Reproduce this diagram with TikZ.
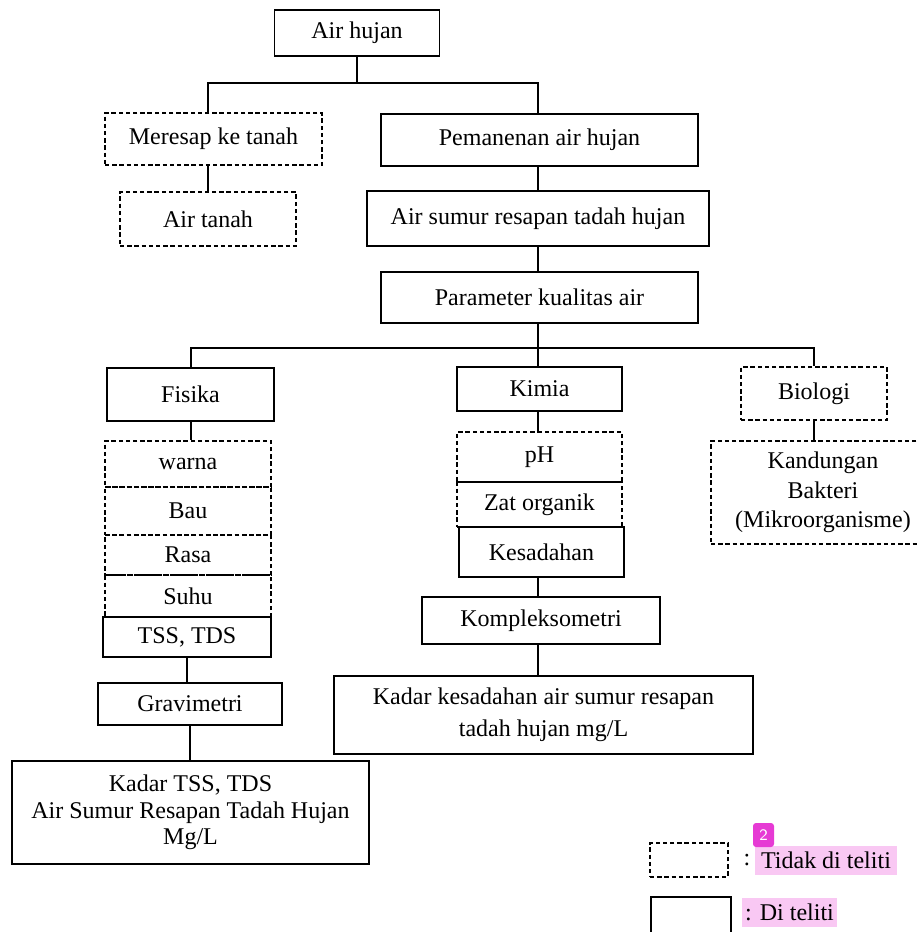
\documentclass[tikz,border=0pt]{standalone}
\usepackage{fontspec}
\setmainfont{Liberation Serif}
\definecolor{hl}{RGB}{249,200,243}
\definecolor{badge}{RGB}{230,58,212}
\begin{document}
\begin{tikzpicture}[x=0.5pt,y=-0.5pt,
  box/.style={draw, line width=0.65pt, inner sep=0pt, anchor=center, align=center,
    font=\fontsize{12}{14}\selectfont},
  dbox/.style={box, dash pattern=on 2.2pt off 1.4pt},
  conn/.style={draw, line width=0.65pt},
  hlbox/.style={fill=hl, inner sep=0pt, anchor=center, font=\fontsize{12}{14}\selectfont}]
\clip (0,0) rectangle (918,932);
\useasboundingbox (0,0) rectangle (918,932);
% top
\node[box, minimum width=82.5pt, minimum height=23pt] (airhujan) at (357,33) {Air hujan};
\node[dbox, minimum width=108.5pt, minimum height=26pt] (meresap) at (213.5,139) {Meresap ke tanah};
\node[box, minimum width=158.5pt, minimum height=26pt] (pemanenan) at (539.5,140) {Pemanenan air hujan};
\node[dbox, minimum width=88pt, minimum height=27pt] (airtanah) at (208,219) {Air tanah};
\node[box, minimum width=171pt, minimum height=27.5pt] (airsumur) at (538,218.5) {Air sumur resapan tadah hujan};
\node[box, minimum width=158.5pt, minimum height=25.5pt] (parameter) at (539.5,297.5) {Parameter kualitas air};
% categories
\node[box, minimum width=83.5pt, minimum height=26.5pt] (fisika) at (190.5,394.5) {Fisika};
\node[box, minimum width=82.5pt, minimum height=22pt] (kimia) at (539.5,389) {Kimia};
\node[dbox, minimum width=73pt, minimum height=26.5pt] (biologi) at (814,393.5) {Biologi};
% fisika stack
\node[dbox, minimum width=83pt, minimum height=23pt] (warna) at (188,464) {warna};
\node[dbox, minimum width=83pt, minimum height=24pt] (bau) at (188,511) {Bau};
\node[dbox, minimum width=83pt, minimum height=20pt] (rasa) at (188,555) {Rasa};
\node[dbox, minimum width=83pt, minimum height=21pt] (suhu) at (188,596) {Suhu};
\node[box, minimum width=84pt, minimum height=20pt] (tss) at (187,637) {TSS, TDS};
\node[box, minimum width=92pt, minimum height=21pt] (grav) at (190,704) {Gravimetri};
\node[box, minimum width=178.5pt, minimum height=51.5pt,
  font=\fontsize{12}{13.25}\selectfont] (kadartss) at (190.5,812.5)
  {Kadar TSS, TDS\\Air Sumur Resapan Tadah Hujan\\Mg/L};
% kimia stack
\node[dbox, minimum width=82.5pt, minimum height=25pt] (ph) at (539.5,457) {pH};
\node[dbox, minimum width=82.5pt, minimum height=22.5pt] (zat) at (539.5,504.5) {Zat organik};
\node[box, minimum width=82.5pt, minimum height=25pt] (kesadahan) at (541.5,552) {Kesadahan};
\node[box, minimum width=119pt, minimum height=23.5pt] (kompleks) at (541,620.5) {Kompleksometri};
\node[box, minimum width=209.5pt, minimum height=39pt,
  font=\fontsize{12}{16}\selectfont] (kadarkes) at (543.5,715)
  {Kadar kesadahan air sumur resapan\\tadah hujan mg/L};
% biologi
\node[dbox, minimum width=112pt, minimum height=51.5pt,
  font=\fontsize{12}{14.75}\selectfont] (kandungan) at (823,492.5)
  {Kandungan\\Bakteri\\(Mikroorganisme)};
% connectors
\coordinate (xl) at (208,0);
\coordinate (xm) at (538,0);
\coordinate (xf) at (191,0);
\coordinate (ja) at (357,83);
\coordinate (jb) at (538,348);
\draw[conn] (airhujan.south) -- (ja);
\draw[conn] (meresap.north -| xl) |- (ja) -| (pemanenan.north -| xm);
\draw[conn] (airtanah.north) -- (airtanah.north |- meresap.south);
\draw[conn] (pemanenan.south -| xm) -- (airsumur.north -| xm);
\draw[conn] (airsumur.south -| xm) -- (parameter.north -| xm);
\draw[conn] (parameter.south -| xm) -- (jb);
\draw[conn] (fisika.north -| xf) |- (jb) -| (biologi.north);
\draw[conn] (jb) -- (kimia.north -| xm);
\draw[conn] (fisika.south -| xf) -- (warna.north -| xf);
\draw[conn] (tss.south) -- (tss.south |- grav.north);
\draw[conn] (grav.south) -- (grav.south |- kadartss.north);
\draw[conn] (kimia.south -| xm) -- (ph.north -| xm);
\draw[conn] (kesadahan.south -| xm) -- (kompleks.north -| xm);
\draw[conn] (kompleks.south -| xm) -- (kadarkes.north -| xm);
\draw[conn] (biologi.south) -- (biologi.south |- kandungan.north);
% legend
\node[dbox, minimum width=39pt, minimum height=17pt] (legd) at (689,860) {};
\node[box, minimum width=40pt, minimum height=26.5pt] (legs) at (691,923.5) {};
\node[hlbox, minimum width=71pt, minimum height=14.5pt] (ltid) at (826,860.5) {Tidak di teliti};
\node[anchor=east, inner sep=0pt, font=\fontsize{12}{14}\selectfont] (lcol) at (ltid.west) {:\,};
\node[hlbox, minimum width=47.5pt, minimum height=14.5pt] (ldi) at (789.5,912.5) {: Di teliti};
\node[fill=badge, rounded corners=1.5pt, inner sep=0pt, minimum width=10.5pt, minimum height=12pt,
  text=white, font=\fontsize{8}{9}\sffamily] (badge) at (763.5,835) {2};
\end{tikzpicture}
\end{document}
